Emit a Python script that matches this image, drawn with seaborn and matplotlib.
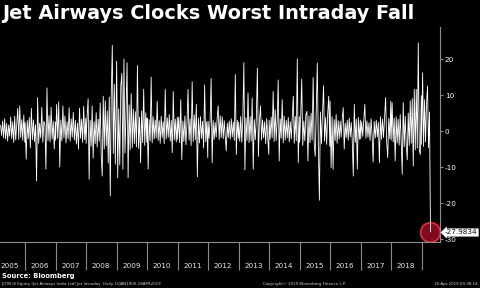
import numpy as np
import pandas as pd
import matplotlib
matplotlib.use("Agg")
import matplotlib.pyplot as plt
import matplotlib.dates as mdates
from matplotlib.ticker import NullFormatter
import seaborn as sns

v2005 = [1.6, -1.2, 2.8, -1.9, 3.4, -2.2, 2.1, -2.8, 1.7, -1.4, 3.9, -2.1, 2.6,
         -3.2, 4.1, -2.5, 1.9, 6.3, -2.3, 7.0, -1.8, 3.2, -2.6, 4.5, -3.1]
v2006 = [2.4, -7.8, 2.9, -2.1, 3.8, -4.6, 6.3, -2.4, 3.1, -2.9, 1.8, -13.9, 9.3,
         -3.4, 2.2, -1.9, 6.6, -3.1, 2.7, 1.9, -10.6, 12.0, -2.6, 4.3, -3.0, 6.6,
         -2.2, 2.8, -5.0, 2.5]
v2007 = [-2.6, 7.4, -2.0, 8.1, -10.0, 3.1, -2.7, 7.0, -1.9, 4.2, -3.3, 2.6, -2.1,
         6.5, -2.8, 3.4, -1.7, 5.2, -2.5, 3.0, -3.6, 2.2, -5.0, 6.4, -2.0, 3.3,
         -3.1, 6.9, -2.4, 3.6]
v2008 = [-3.4, 4.1, 9.0, -13.4, 3.0, -4.2, 7.0, -7.5, 2.6, -3.5, 5.1, -4.4, 3.3,
         -2.8, 7.8, -6.9, -12.5, 9.7, -5.0, 8.4, -4.1, 5.6, -8.9, 9.5, -18.0, 10.7,
         23.8, -6.2, 13.0, -9.2, 11.2]
v2009 = [19.4, -13.0, 6.2, -9.4, 12.6, 16.0, -10.6, 20.0, -6.1, 4.9, 19.0, -13.0,
         7.3, -5.2, 10.4, -4.6, 6.1, -3.5, 5.4, -4.4, 18.2, -4.8, 3.9, -8.8, 5.6,
         -3.2, 11.6, -4.0, 5.1, -3.1]
v2010 = [3.6, -10.6, 3.2, -2.7, 15.0, -3.3, 4.0, -2.2, 3.1, -1.9, 8.3, -2.6, 2.9,
         -3.4, 4.1, -1.8, 2.6, -3.5, 11.6, -2.2, 3.7, -1.7, 4.6, -2.8, 3.0, -6.0,
         11.0, -2.5, 3.3, -3.0, 3.8]
v2011 = [-2.3, 3.9, -3.2, 8.7, -8.0, 2.8, -2.9, 4.2, -3.8, 2.2, 11.6, -2.5, 3.4,
         -4.0, 13.7, -2.9, 4.5, -2.4, 7.4, -12.7, 3.6, -3.3, 4.0, -2.1, 2.7, -4.7,
         12.8, -3.0, 2.6, -7.4]
v2012 = [2.7, -2.0, 3.1, 14.6, -8.8, 2.9, -2.3, 2.4, -1.7, 3.6, 7.0, -2.4, 4.3,
         -1.8, 4.0, -2.1, 2.9, -1.5, -5.5, 2.2, -1.8, 2.8, -2.2, 3.4, -1.6, 2.5,
         -2.6, 15.7, -6.5, 3.0, -2.0]
v2013 = [2.5, -2.8, 4.1, -3.1, 3.3, 19.0, -10.8, 3.7, -2.6, 10.6, -3.2, 4.0, -2.8,
         9.2, -10.6, 3.2, -2.4, 3.8, 17.5, -7.0, 2.9, 7.0, -2.5, 3.1, -1.9, 2.6,
         -3.5, 3.5, -2.1, -6.5]
v2014 = [3.0, -2.3, 3.9, -1.8, 11.0, -2.9, 6.0, -2.6, 3.1, 14.2, -8.3, 3.4, -2.0,
         8.7, -3.3, 4.2, -2.5, 3.0, -1.9, 3.8, -3.0, 2.6, -2.2, 3.5, 9.7, -3.4,
         4.1, -2.7, 20.1, -8.8, 4.0]
v2015 = [-3.1, 3.7, 14.4, -4.0, 2.8, -2.7, 4.5, 5.5, -8.3, 4.2, -3.2, 5.0, -2.5,
         14.9, -3.6, -7.0, 5.9, 18.9, -3.9, -19.2, 5.3, -3.5, 4.6, 12.6, -2.8, 3.8,
         -3.7, 4.8, 9.7, -4.2]
v2016 = [8.3, -10.2, 4.0, -10.6, 3.2, -2.6, 4.6, -3.4, 2.9, -2.2, 2.7, -1.7, 3.4,
         6.5, -5.0, 2.2, -1.8, 3.0, -2.5, 3.6, -1.6, 2.4, -2.8, -12.5, 7.4, -3.1,
         3.3, -10.6, 3.8, -2.3, 3.1]
v2017 = [-2.2, 2.6, -1.5, 3.1, 7.4, -2.0, 2.8, -1.7, 2.3, -2.6, 3.4, -1.4, -8.6,
         2.7, -1.9, 3.0, -1.6, 2.4, -8.8, 4.0, -2.3, 3.3, -1.8, 3.9, 9.3, -2.7,
         -7.4, 3.5, -2.1, 8.3]
v2018 = [-2.5, 7.9, -3.0, 3.6, -8.3, 4.0, -3.3, 3.3, -3.9, 4.6, -3.1, -12.0, 7.9,
         -4.4, 4.1, -3.6, -8.0, 5.0, -4.0, 8.4, -3.4, 9.0, -9.7, 11.6, -5.2, 11.6,
         -4.7, 24.5, -5.4, -6.5, 9.8]
v2019 = [-3.7, 16.2, -4.3, 8.7, -3.0, 7.6, 12.5, -4.6, 5.3, -27.9834]

years = list(range(2005, 2020))
year_labels = [str(y) for y in range(2005, 2019)]
year_values = [v2005, v2006, v2007, v2008, v2009, v2010, v2011, v2012,
               v2013, v2014, v2015, v2016, v2017, v2018, v2019]
seg_start = ["2005-03-14"] + [f"{y}-01-02" for y in years[1:]]
seg_end = [f"{y}-12-29" for y in years[:-1]] + ["2019-04-18"]

frames = []
for vals, s, e in zip(year_values, seg_start, seg_end):
    frames.append(pd.DataFrame({"date": pd.date_range(s, e, periods=len(vals)),
                                "value": vals}))
df = pd.concat(frames, ignore_index=True)
last = df.iloc[[-1]]

# ---- style ----
sns.set_theme(style="dark")
plt.rcParams["font.family"] = ["DejaVu Sans"]
plt.rcParams["axes.unicode_minus"] = False

fig = plt.figure(figsize=(4.8, 2.88), dpi=100, facecolor="black")
ax = fig.add_axes([0.0, 46 / 288, 440 / 480, 215 / 288])
ax.set_facecolor("black")

sns.lineplot(data=df, x="date", y="value", ax=ax, color="white",
             linewidth=0.6, estimator=None, zorder=3)
sns.scatterplot(data=last, x="date", y="value", ax=ax, s=200,
                color="#7e0b1f", edgecolor="#e2283f", linewidth=1.3, zorder=2)

ax.set_xlim(pd.Timestamp("2005-03-07"), pd.Timestamp("2019-08-10"))
ax.set_ylim(-30.8, 28.9)
ax.set_xlabel("")
ax.set_ylabel("")
ax.grid(False)

for side in ("left", "top"):
    ax.spines[side].set_visible(False)
for side in ("right", "bottom"):
    ax.spines[side].set_visible(True)
    ax.spines[side].set_color("#8c8c8c")
    ax.spines[side].set_linewidth(0.8)

# x axis: separators at year starts, labels mid-year
ax.xaxis.set_major_locator(mdates.YearLocator())
ax.xaxis.set_major_formatter(NullFormatter())
mid_years = [mdates.date2num(pd.Timestamp(f"{y}-07-01")) for y in year_labels]
ax.set_xticks(mid_years, labels=year_labels, minor=True)
ax.tick_params(axis="x", which="major", length=20, width=0.8,
               color="#8c8c8c", direction="out", bottom=True)
ax.tick_params(axis="x", which="minor", length=0, pad=15, labelsize=5.2,
               labelcolor="#e8e8e8", bottom=True)

# y axis on right
ax.yaxis.tick_right()
ax.set_yticks([-30, -20, -10, 0, 10, 20])
ax.tick_params(axis="y", length=2.5, width=0.8, color="#8c8c8c",
               labelcolor="white", labelsize=5.2, pad=1, right=True, left=False)

# last value label
fig.text(445 / 480, 1 - 232.5 / 288, "-27.9834", fontsize=5.2, color="#111111",
         ha="left", va="center",
         bbox=dict(boxstyle="larrow,pad=0.15", fc="white", ec="none"))

# texts
fig.text(2 / 480, 1 - 13.5 / 288, "Jet Airways Clocks Worst Intraday Fall",
         fontsize=13.9, fontweight="bold", color="white", ha="left", va="center")
fig.text(2 / 480, 1 - 276 / 288, "Source: Bloomberg", fontsize=4.9,
         fontweight="bold", color="white", ha="left", va="center")
fig.text(1 / 480, 1 - 284.5 / 288,
         "JETIN IS Equity (Jet Airways India Ltd) Jet Intraday  Daily 10JAN1900-18APR2019",
         fontsize=2.9, color="#d0d0d0", ha="left", va="center")
fig.text(263 / 480, 1 - 284.5 / 288, "Copyright\u00a9 2019 Bloomberg Finance L.P.",
         fontsize=2.9, color="#d0d0d0", ha="left", va="center")
fig.text(478 / 480, 1 - 284.5 / 288, "18-Apr-2019 09:38:14",
         fontsize=2.9, color="#d0d0d0", ha="right", va="center")

fig.savefig("out.png", dpi=100, facecolor="black")
